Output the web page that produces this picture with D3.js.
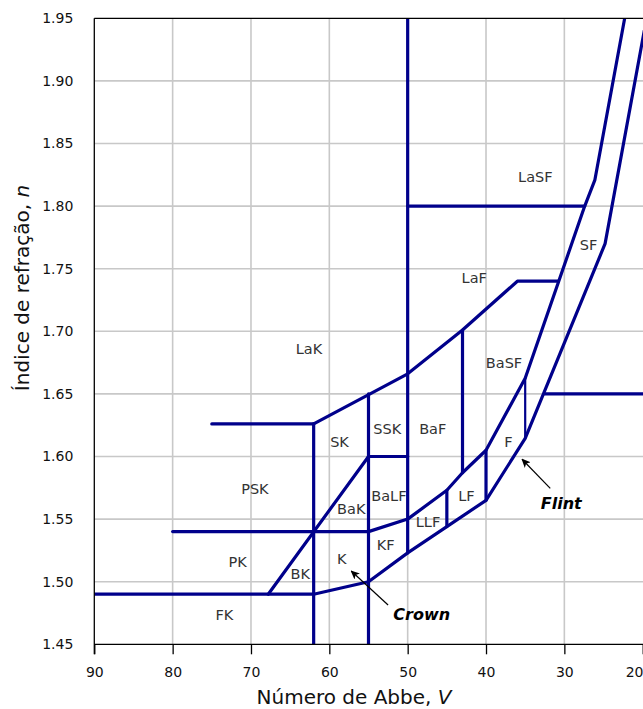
<!DOCTYPE html>
<html>
<head>
<meta charset="utf-8">
<script src="https://cdn.jsdelivr.net/npm/d3@7"></script>
<style>
  body { margin: 0; background: #fff; }
  svg { display: block; font-family: "DejaVu Sans", sans-serif; }
</style>
</head>
<body>
<svg id="chart" width="643" height="709"></svg>
<script>
// ticks
const abbeTicks = [90, 80, 70, 60, 50, 40, 30, 20];
const indexTicks = [1.45, 1.50, 1.55, 1.60, 1.65, 1.70, 1.75, 1.80, 1.85, 1.90, 1.95];

// glass family boundaries, [V, n]
const fkTop = [[90, 1.49], [62, 1.49]];
const pskTop = [[75, 1.626], [62, 1.626]];
const pkTop = [[80, 1.54], [55, 1.54]];
const skBottom = [[55, 1.60], [50, 1.60]];
const bakDiagonal = [[67.8, 1.49], [55, 1.60]];
const v62 = [[62, 1.626], [62, 1.45]];
const v55 = [[55, 1.65], [55, 1.45]];
const v50 = [[50, 1.95], [50, 1.523]];
const v43 = [[43, 1.701], [43, 1.587]];
const v45 = [[45, 1.573], [45, 1.544]];
const v40 = [[40, 1.605], [40, 1.565]];
const lakEdge = [[62, 1.626], [50, 1.666], [43, 1.701], [36, 1.74], [30.8, 1.74]];
const lasfBottom = [[50, 1.80], [27.4, 1.80]];
const flintUpper = [[55, 1.54], [50, 1.55], [45, 1.573], [43, 1.587], [40, 1.605],
                    [35, 1.6625], [27.4, 1.80], [26.1, 1.821], [22.3, 1.95]];
const flintLower = [[62, 1.49], [55, 1.50], [50, 1.523], [45, 1.544], [40, 1.565],
                    [35, 1.6145], [24.8, 1.77], [19.8, 1.94]];
const sfRight = [[32.5, 1.65], [19, 1.65]];
const fSplit = [[35, 1.6625], [35, 1.6145]];

// region names at [V, n]
const regionNames = ["LaSF", "SF", "LaF", "LaK", "BaSF", "SSK", "BaF", "SK", "F", "PSK",
                     "BaLF", "LF", "BaK", "LLF", "KF", "PK", "K", "BK", "FK"];
const regionV = [33.7, 26.9, 41.5, 62.6, 37.7, 52.6, 46.8, 58.7, 37.15, 69.5,
                 52.4, 42.5, 57.2, 47.4, 52.8, 71.7, 58.4, 63.7, 73.4];
const regionN = [1.8235, 1.769, 1.743, 1.686, 1.675, 1.622, 1.622, 1.612, 1.612, 1.5746,
                 1.569, 1.569, 1.5586, 1.548, 1.5293, 1.516, 1.518, 1.506, 1.4734];

// callouts: text position, arrow tail, arrow head
const callouts = [
  { name: "Crown", at: [48.2, 1.474], from: [52.5, 1.4814], to: [57.2, 1.5085] },
  { name: "Flint", at: [30.4, 1.563], from: [31.8, 1.5746], to: [35.4, 1.5978] }
];

const svg = d3.select("#chart");
const plotLeft = 94.3, plotRight = 642.7, plotTop = 18.3, plotBottom = 644.3;

const x = d3.scaleLinear().domain([90, 20]).range([plotLeft, plotRight]);
const y = d3.scaleLinear().domain([1.45, 1.95]).range([plotBottom, plotTop]);

const defs = svg.append("defs");
defs.append("clipPath").attr("id", "plot")
  .append("rect").attr("x", plotLeft).attr("y", plotTop)
  .attr("width", 643 - plotLeft).attr("height", plotBottom - plotTop);

defs.append("marker")
  .attr("id", "head").attr("viewBox", "0 -5 10 10")
  .attr("refX", 9).attr("refY", 0)
  .attr("markerWidth", 9).attr("markerHeight", 9)
  .attr("markerUnits", "userSpaceOnUse")
  .attr("orient", "auto")
  .append("path").attr("d", "M0,-4.5L10,0L0,4.5L2.5,0Z").attr("fill", "#000");

// grid
const grid = svg.append("g").attr("stroke", "#c8c8c8").attr("stroke-width", 1.6);
grid.selectAll(".gx").data(abbeTicks.slice(1, -1)).join("line")
  .attr("x1", d => x(d)).attr("x2", d => x(d)).attr("y1", plotTop).attr("y2", plotBottom);
grid.selectAll(".gy").data(indexTicks.slice(1, -1)).join("line")
  .attr("x1", plotLeft).attr("x2", 643).attr("y1", d => y(d)).attr("y2", d => y(d));

// boundaries
const line = d3.line().x(d => x(d[0])).y(d => y(d[1]));
const thick = [fkTop, pskTop, pkTop, skBottom, bakDiagonal, v62, v55, v50, v43, v45, v40,
               lakEdge, lasfBottom, flintUpper, flintLower, sfRight];
const bounds = svg.append("g").attr("clip-path", "url(#plot)")
  .attr("fill", "none").attr("stroke", "#00008b")
  .attr("stroke-linejoin", "round").attr("stroke-linecap", "round");
bounds.selectAll("path.b").data(thick).join("path")
  .attr("d", line).attr("stroke-width", 3.2);
bounds.append("path").attr("d", line(fSplit)).attr("stroke-width", 2.2);

// axes
svg.append("g").attr("transform", `translate(0,${plotBottom})`)
  .call(d3.axisBottom(x).tickValues(abbeTicks).tickSize(10).tickSizeOuter(0).tickPadding(13))
  .call(g => g.select(".domain").attr("d", `M${plotLeft},0H643`).attr("stroke-width", 1.3))
  .call(g => g.selectAll(".tick line").attr("stroke-width", 1.3))
  .call(g => g.selectAll("text").attr("font-size", 14).attr("font-family", "DejaVu Sans").attr("fill", "#111"))
  .call(g => g.selectAll(".tick").filter(d => d === 20).select("text")
    .attr("text-anchor", "end").attr("x", 643 - x(20)));

svg.append("g").attr("transform", `translate(${plotLeft},0)`)
  .call(d3.axisLeft(y).tickValues(indexTicks).tickFormat(d3.format(".2f")).tickSize(0).tickPadding(21))
  .call(g => g.select(".domain").attr("d", `M0,${plotTop}V${plotBottom + 10}`).attr("stroke-width", 1.3))
  .call(g => g.selectAll("text").attr("font-size", 14).attr("font-family", "DejaVu Sans").attr("fill", "#111"));

svg.append("line").attr("x1", plotLeft).attr("x2", 643).attr("y1", plotTop).attr("y2", plotTop)
  .attr("stroke", "#000").attr("stroke-width", 1.3);

// region labels
svg.append("g").attr("font-size", 14.5).attr("fill", "#333").attr("text-anchor", "middle")
  .selectAll("text").data(regionNames).join("text")
  .attr("x", (d, i) => x(regionV[i]))
  .attr("y", (d, i) => y(regionN[i]))
  .attr("dy", "0.36em")
  .text(d => d);

// callouts
callouts.forEach(c => {
  svg.append("line")
    .attr("x1", x(c.from[0])).attr("y1", y(c.from[1]))
    .attr("x2", x(c.to[0])).attr("y2", y(c.to[1]))
    .attr("stroke", "#000").attr("stroke-width", 1.2)
    .attr("marker-end", "url(#head)");
  svg.append("text")
    .attr("x", x(c.at[0])).attr("y", y(c.at[1])).attr("dy", "0.36em")
    .attr("text-anchor", "middle")
    .attr("font-size", 16).attr("font-weight", "bold").attr("font-style", "italic")
    .text(c.name);
});

// axis titles
const xt = svg.append("text").attr("x", 354).attr("y", 704)
  .attr("text-anchor", "middle").attr("font-size", 20).attr("fill", "#111");
xt.append("tspan").text("Número de Abbe, ");
xt.append("tspan").attr("font-style", "italic").text("V");

const yt = svg.append("text").attr("transform", "translate(29,288) rotate(-90)")
  .attr("text-anchor", "middle").attr("font-size", 20).attr("fill", "#111");
yt.append("tspan").text("Índice de refração, ");
yt.append("tspan").attr("font-style", "italic").text("n");
</script>
</body>
</html>
